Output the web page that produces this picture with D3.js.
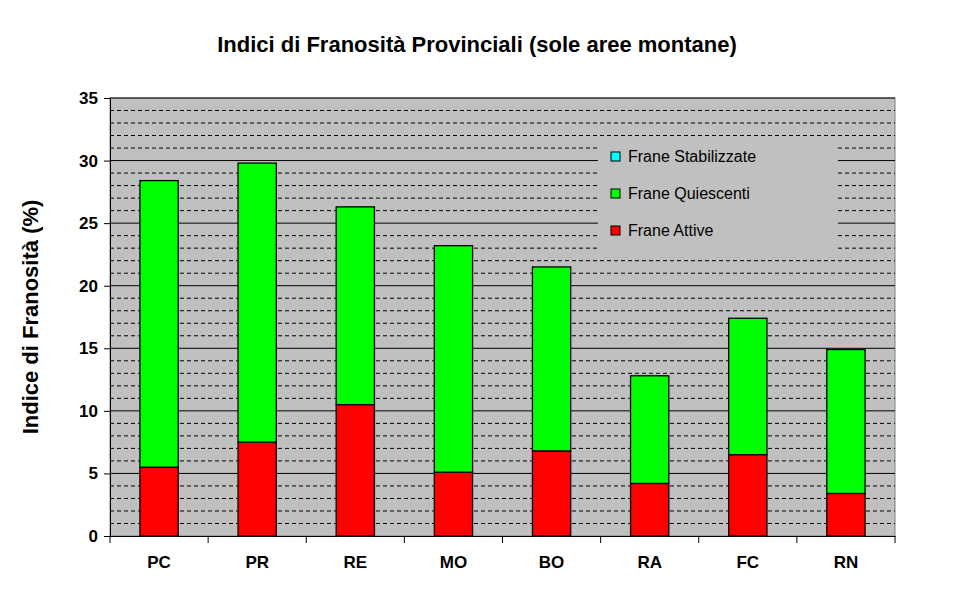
<!DOCTYPE html>
<html><head><meta charset="utf-8">
<script src="https://cdn.jsdelivr.net/npm/d3@7"></script>
<style>body{margin:0;background:#fff}text{font-family:Arial,"Liberation Sans",sans-serif}</style>
</head><body><div class="chart"></div>
<script>
var categories = ["PC","PR","RE","MO","BO","RA","FC","RN"];
var attive = [5.5, 7.5, 10.5, 5.1, 6.8, 4.2, 6.5, 3.4];
var quiescenti = [22.9, 22.3, 15.8, 18.1, 14.7, 8.6, 10.9, 11.5];
var stabilizzate = [0, 0, 0, 0, 0, 0, 0, 0];
var series = [
  {name: "Frane Attive", values: attive, color: "#ff0000"},
  {name: "Frane Quiescenti", values: quiescenti, color: "#00ff00"},
  {name: "Frane Stabilizzate", values: stabilizzate, color: "#00ffff"}
];

var w = 954, h = 599;
var pLeft = 110, pRight = 895, pTop = 98, pBottom = 536;

var svg = d3.select(".chart").append("svg").attr("width", w).attr("height", h);

var x = d3.scaleBand().domain(categories).range([pLeft, pRight]).paddingInner(0.61).paddingOuter(0.305);
var xb = d3.scaleBand().domain(categories).range([pLeft, pRight]);
var y = d3.scaleLinear().domain([0, 35]).range([pBottom, pTop]);

svg.append("rect").attr("x", pLeft).attr("y", pTop).attr("width", pRight - pLeft).attr("height", pBottom - pTop)
  .attr("fill", "#c0c0c0").attr("stroke", "#808080");

// minor dashed grid
d3.range(1, 35).filter(function(v){ return v % 5 != 0; }).forEach(function(v){
  svg.append("line").attr("x1", pLeft).attr("x2", pRight).attr("y1", y(v)).attr("y2", y(v))
    .attr("stroke", "#000").attr("stroke-dasharray", "4,3").attr("stroke-width", 1);
});
d3.range(5, 36, 5).forEach(function(v){
  svg.append("line").attr("x1", pLeft).attr("x2", pRight).attr("y1", y(v)).attr("y2", y(v))
    .attr("stroke", "#000").attr("stroke-width", 1);
});

var stack = [];
categories.forEach(function(c, i){
  var base = 0;
  series.forEach(function(s){
    stack.push({cat: c, y0: base, y1: base + s.values[i], color: s.color});
    base += s.values[i];
  });
});
svg.selectAll("rect.bar").data(stack.filter(function(d){ return d.y1 > d.y0; })).enter().append("rect")
  .attr("class", "bar")
  .attr("x", function(d){ return x(d.cat); })
  .attr("width", x.bandwidth())
  .attr("y", function(d){ return y(d.y1); })
  .attr("height", function(d){ return y(d.y0) - y(d.y1); })
  .attr("fill", function(d){ return d.color; })
  .attr("stroke", "#000").attr("stroke-width", 1.3);

var yAxis = svg.append("g").attr("transform", "translate(" + pLeft + ",0)")
  .call(d3.axisLeft(y).tickValues(d3.range(0, 36, 5)).tickSize(6).tickPadding(6));
yAxis.selectAll("text").attr("font-size", 17).attr("font-weight", "bold").attr("fill", "#000");
yAxis.select(".domain").attr("stroke", "#000");

var xAxis = svg.append("g").attr("transform", "translate(0," + pBottom + ")")
  .call(d3.axisBottom(x).tickSize(0).tickPadding(20));
xAxis.selectAll("text").attr("font-size", 17).attr("font-weight", "bold").attr("fill", "#000");
xAxis.select(".domain").attr("stroke", "#000");
categories.concat(["end"]).forEach(function(c, i){
  var px = pLeft + i * xb.bandwidth();
  svg.append("line").attr("x1", px).attr("x2", px).attr("y1", pBottom).attr("y2", pBottom + 7).attr("stroke", "#000");
});

svg.append("text").attr("x", 477).attr("y", 52).attr("text-anchor", "middle")
  .attr("font-size", 22).attr("font-weight", "bold").text("Indici di Franosità Provinciali (sole aree montane)");
svg.append("text").attr("transform", "translate(38,317) rotate(-90)").attr("text-anchor", "middle")
  .attr("font-size", 22).attr("font-weight", "bold").text("Indice di Franosità (%)");

var lg = svg.append("g").attr("transform", "translate(598,137)");
lg.append("rect").attr("width", 240).attr("height", 113).attr("fill", "#c0c0c0");
series.slice().reverse().forEach(function(s, i){
  lg.append("rect").attr("x", 13).attr("y", 15 + i * 37).attr("width", 9).attr("height", 9)
    .attr("fill", s.color).attr("stroke", "#000");
  lg.append("text").attr("x", 30).attr("y", 25 + i * 37).attr("font-size", 16).text(s.name);
});
</script></body></html>
